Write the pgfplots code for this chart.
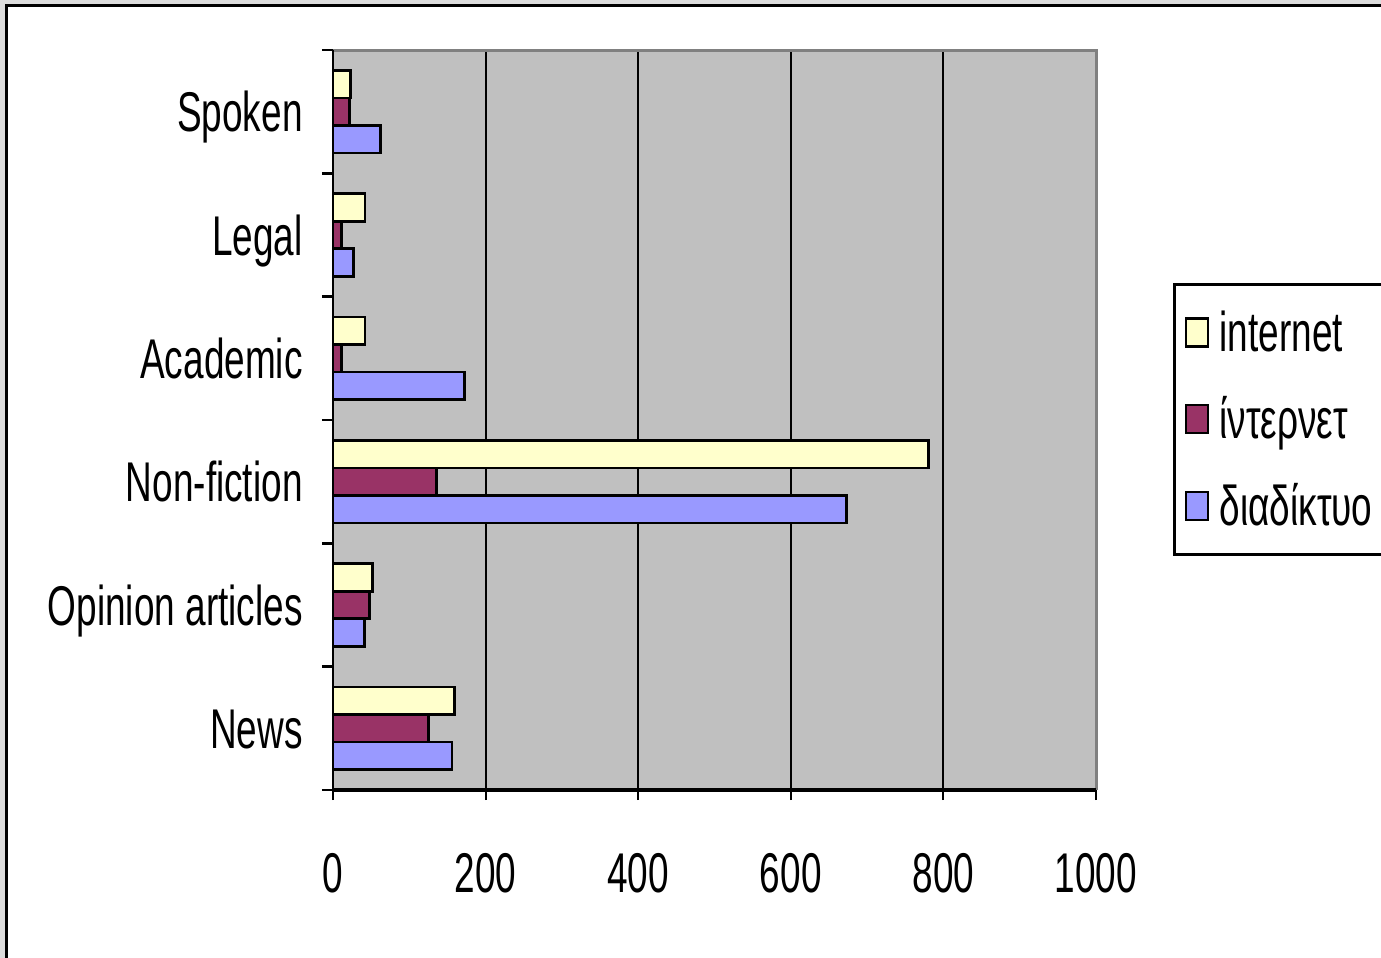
\documentclass[border=0pt]{standalone}
\usepackage{fontspec}
\setmainfont[FakeStretch=0.66]{Liberation Sans}
\usepackage{pgfplots}
\pgfplotsset{compat=1.18}
\definecolor{cyel}{HTML}{FFFFCC}
\definecolor{cmar}{HTML}{993366}
\definecolor{cblu}{HTML}{9999FF}
\definecolor{cplot}{HTML}{C0C0C0}
\definecolor{cbord}{HTML}{808080}
\definecolor{cout}{HTML}{DCDCDC}
\newcommand{\bigf}{\fontsize{28pt}{33pt}\selectfont}
\begin{document}
\begin{tikzpicture}
\useasboundingbox (0,0) rectangle (690.5pt,479pt);
\clip (0,0) rectangle (690.5pt,479pt);
\fill[cout] (0,0) rectangle (690.5pt,479pt);
\draw[line width=1.5pt, fill=white] (3pt,-20pt) rectangle (720pt,476pt);
\begin{axis}[
  at={(166.5pt,84pt)}, anchor=south west,
  scale only axis, width=381.5pt, height=370pt,
  xmin=0, xmax=1000, ymin=-0.5, ymax=5.5,
  xbar, bar width=13.75pt,
  axis line style={draw=none},
  axis background/.style={fill=cplot},
  xtick={0,200,400,600,800,1000},
  ytick={0,1,2,3,4,5},
  yticklabels={News,Opinion articles,Non-fiction,Academic,Legal,Spoken},
  minor ytick={-0.5,0.5,1.5,2.5,3.5,4.5,5.5},
  tick pos=left,
  tick align=outside,
  major tick length=5pt, minor tick length=5.5pt,
  major y tick style={draw=none},
  minor y tick style={black, line width=1.2pt},
  major x tick style={black, line width=1pt},
  xmajorgrids, grid style={black, line width=1pt},
  /pgf/number format/assume math mode=true,
  /pgf/number format/1000 sep={},
  every tick label/.append style={font=\bigf},
  xticklabel style={anchor=base, inner sep=0pt, yshift=-46pt},
  yticklabel style={anchor=base east, inner sep=0pt, yshift=-10pt, xshift=-10pt},
  legend style={at={(1.1009,0.6851)}, anchor=north west, draw=black, line width=1.5pt,
    font=\bigf, inner xsep=5pt, inner ysep=11pt, row sep=17pt, cells={anchor=west}},
  legend image code/.code={\draw[#1, line width=1.2pt] (0pt,-7pt) rectangle (11pt,7pt);
    \path[draw=none, fill=none] (0pt,0pt) -- (15pt,0pt);},
  after end axis/.code={
    \draw[cbord, line width=1.5pt] (rel axis cs:0,1) -- (rel axis cs:1,1) -- (rel axis cs:1,0);
    \draw[black, line width=1pt] (rel axis cs:0,0) -- (rel axis cs:0,1);
    \draw[black, line width=1.6pt] (rel axis cs:0,0) -- (rel axis cs:1,0);
  },
]
\addplot[draw=black, line width=1.4pt, fill=cyel, bar shift=13.75pt] coordinates {(159,0) (52,1) (780,2) (42,3) (42,4) (23,5)};
\addplot[draw=black, line width=1.4pt, fill=cmar, bar shift=0pt] coordinates {(125,0) (48,1) (136,2) (11,3) (11,4) (22,5)};
\addplot[draw=black, line width=1.4pt, fill=cblu, bar shift=-13.75pt] coordinates {(156,0) (41,1) (673,2) (172,3) (27,4) (62,5)};
\legend{internet,ίντερνετ,διαδίκτυο}
\end{axis}
\end{tikzpicture}
\end{document}
